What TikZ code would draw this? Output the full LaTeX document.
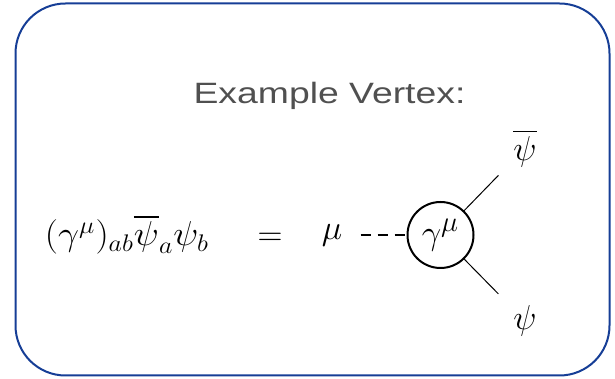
\documentclass[tikz,border=0pt]{standalone}
\usepackage{fontspec}
\newfontfamily\titlefont{Liberation Sans}
\usepackage{amsmath}
\usepackage{graphicx}
\usetikzlibrary{
  arrows.meta,
  positioning
}
\definecolor{frame}{RGB}{22,62,150}
\definecolor{heading}{RGB}{80,80,80}

\begin{document}
\begin{tikzpicture}[
  x=0.5pt, y=0.5pt,
  panel/.style={draw=frame, line width=1pt, rounded corners=25pt},
  title/.style={font=\titlefont\fontsize{14.7}{17}\selectfont, text=heading, anchor=base},
  eqn/.style={font=\fontsize{18.5}{22}\selectfont, inner sep=1pt, anchor=base},
  lbl/.style={font=\fontsize{17}{20}\selectfont, inner sep=1pt},
  vertex/.style={circle, draw, line width=1pt, minimum size=33pt, inner sep=0pt,
                 font=\fontsize{19}{22}\selectfont},
  leg/.style={line width=0.5pt, shorten >=9pt},
  boson/.style={line width=1pt, dash pattern=on 5pt off 3.5pt, shorten <=8pt},
  >=Stealth
]

\useasboundingbox (0,0) rectangle (615,379);
\draw[panel] (15.5,3.5) rectangle (609.5,375.5);

\node[title] (head) at (329.5,275) {\scalebox{1.27}[1]{Example Vertex:}};

\node[eqn] (lhs) at (127,133) {\scalebox{1.08}[1]{$(\gamma^\mu)_{ab}\overline{\psi}_a\psi_b$}};
\node[eqn] (eq)  at (270,133) {$=$};

\node[lbl]    (mu)     at (332,144)   {$\mu$};
\node[vertex] (vtx)    at (440.5,144) {$\gamma^\mu$};
\node[lbl]    (psibar) at (525,231)   {$\overline{\psi}$};
\node[lbl]    (psi)    at (525,58)    {$\psi$};

\draw[boson] (mu) -- (vtx);
\draw[leg] (vtx) -- (psibar);
\draw[leg] (vtx) -- (psi);

\end{tikzpicture}
\end{document}
